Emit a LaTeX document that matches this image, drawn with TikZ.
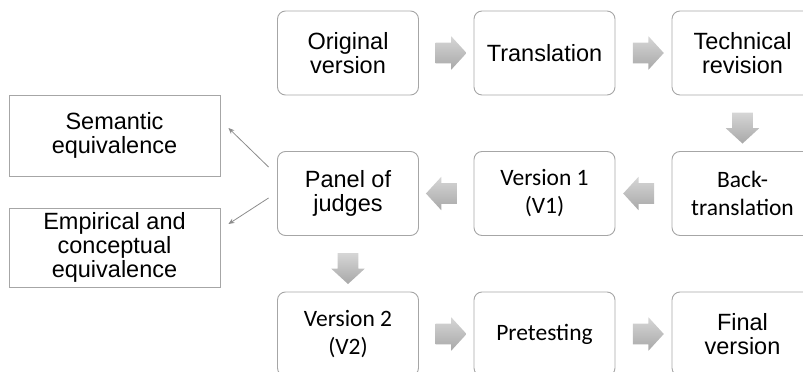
\documentclass[tikz,border=0pt]{standalone}
\usepackage{fontspec}
\setmainfont{Liberation Sans}
\newfontfamily\calibrifont{Carlito}
\usetikzlibrary{shapes.arrows,arrows.meta}
\definecolor{boxgray}{HTML}{A6A6A6}
\definecolor{arrtop}{HTML}{D6D6D6}
\definecolor{arrbot}{HTML}{A8A8A8}
\definecolor{linegray}{HTML}{8C8C8C}
\newcommand\arialtext{\fontsize{23.5}{24}\selectfont}
\newcommand\calitext{\calibrifont\fontsize{23.5}{28}\selectfont}
\begin{document}
\begin{tikzpicture}[x=1pt,y=1pt,
  stepbox/.style={draw=boxgray, line width=0.9pt, rounded corners=8pt,
    minimum width=141pt, minimum height=84pt, align=center, inner sep=2pt,
    font=\arialtext, text=black},
  calbox/.style={stepbox, font=\calitext},
  eqbox/.style={draw=boxgray, line width=0.9pt, minimum width=211pt,
    align=center, inner sep=2pt, font=\arialtext, text=black},
  blockarrow/.style={single arrow, minimum height=31pt, minimum width=0pt,
    inner xsep=0pt, inner ysep=10.25pt,
    single arrow head extend=6.25pt, single arrow tip angle=95,
    top color=arrtop, bottom color=arrbot, draw=none},
  thinarr/.style={draw=linegray, line width=0.8pt, -{Stealth[length=6pt,width=5pt]}}
]
\useasboundingbox (0,0) rectangle (803,372);
\clip (0,0) rectangle (803,372);

% top row
\node[stepbox] (orig)  at (348,319)   {Original\\version};
\node[stepbox] (trans) at (544.5,319) {Translation};
\node[stepbox] (tech)  at (742.5,319) {Technical\\revision};
% middle row
\node[stepbox] (panel) at (348,178.5)   {Panel of\\judges};
\node[calbox]  (v1)    at (544.5,178.5) {Version 1\\(V1)};
\node[calbox]  (back)  at (742.5,178.5) {Back-\\translation};
% bottom row
\node[calbox]  (v2)    at (348,38)   {Version 2\\(V2)};
\node[calbox]  (pret)  at (544.5,38) {Pretesting};
\node[stepbox] (final) at (742.5,38) {Final\\version};
% left boxes
\node[eqbox, minimum height=81pt] (sem) at (114.5,236.5) {Semantic\\equivalence};
\node[eqbox, minimum height=79pt] (emp) at (114.5,124.5) {Empirical and\\conceptual\\equivalence};

% block arrows
\path (orig)  -- node[blockarrow] {} (trans);
\path (trans) -- node[blockarrow] {} (tech);
\path (tech)  -- node[blockarrow, rotate=-90] {} (back);
\path (back)  -- node[blockarrow, rotate=180] {} (v1);
\path (v1)    -- node[blockarrow, rotate=180] {} (panel);
\path (panel) -- node[blockarrow, rotate=-90] {} (v2);
\path (v2)    -- node[blockarrow] {} (pret);
\path (pret)  -- node[blockarrow] {} (final);

% thin arrows
\draw[thinarr] ([shift={(-8.5,26.5)}]panel.west) -- ([shift={(8,7.5)}]sem.east);
\draw[thinarr] ([shift={(-8.5,-4.5)}]panel.west) -- ([shift={(8,23.5)}]emp.east);
\end{tikzpicture}
\end{document}
